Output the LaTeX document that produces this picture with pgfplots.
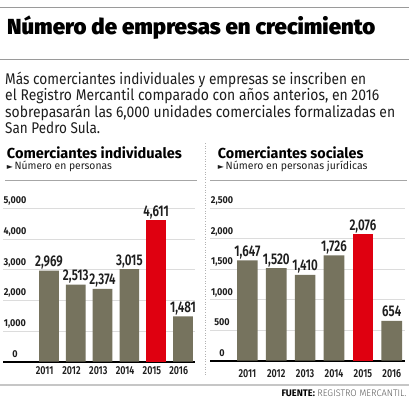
\documentclass[border=0pt]{standalone}
\usepackage{pgfplots}
\pgfplotsset{compat=1.18}
\usepackage{graphicx}
\usepackage{fontspec}
\setmainfont{Fira Sans}
\newfontfamily\symfont{DejaVu Sans}
\IfFontExistsTF{Fira Sans Black}{\newfontfamily\heavyfont{Fira Sans Black}}{%
 \IfFontExistsTF{FiraSans-Black.otf}{\newfontfamily\heavyfont{FiraSans-Black.otf}}{%
  \IfFontExistsTF{Fira Sans Heavy}{\newfontfamily\heavyfont{Fira Sans Heavy}}{%
   \IfFontExistsTF{FiraSans-Heavy.otf}{\newfontfamily\heavyfont{FiraSans-Heavy.otf}}{%
    \IfFontExistsTF{Fira Sans ExtraBold}{\newfontfamily\heavyfont{Fira Sans ExtraBold}}{%
     \newcommand\heavyfont{\bfseries}}}}}}
\IfFontExistsTF{Fira Sans SemiBold}{\newfontfamily\semifont{Fira Sans SemiBold}}{\newcommand\semifont{\bfseries}}
\IfFontExistsTF{Fira Sans Light}{\newfontfamily\lightfont{Fira Sans Light}}{\newcommand\lightfont{}}

\definecolor{bargray}{HTML}{76735E}
\definecolor{barred}{HTML}{DF0010}
\definecolor{ink}{HTML}{1E1E1E}
\definecolor{gridgray}{HTML}{DCDCDC}
\definecolor{rulegray}{HTML}{9A9A9A}

\pgfplotsset{chartbase/.style={
  scale only axis, anchor=south west, clip=false,
  axis x line*=bottom, axis y line*=left,
  every outer x axis line/.append style={-},
  x axis line style={-, line width=2pt, black},
  y axis line style={draw=none},
  major tick length=0pt, tick style={draw=none},
  ymajorgrids, grid style={gridgray, line width=0.7pt},
  ymin=0, scaled y ticks=false,
  xtick={0,1,2,3,4,5}, xticklabels={2011,2012,2013,2014,2015,2016},
  /pgf/number format/.cd, fixed, 1000 sep={,}, assume math mode=true, /pgfplots/.cd,
  yticklabel style={font=\fontsize{10}{10}\selectfont\bfseries, text=ink,
    anchor=base, inner sep=0pt, xshift=12pt, yshift=4.5pt, xscale=0.9},
  xticklabel style={font=\fontsize{11.5}{11.5}\selectfont\semifont, text=ink,
    anchor=base, inner sep=0pt, xscale=0.78},
  nodes near coords,
  nodes near coords style={font=\fontsize{15.5}{15.5}\selectfont\semifont, text=ink,
    anchor=base, inner sep=0pt, yshift=4pt, xscale=0.75},
}}

\begin{document}
\begin{tikzpicture}[x=1pt,y=1pt]
\fill[white] (0,0) rectangle (409,400);
\useasboundingbox (0,0) rectangle (409,400);

% rules
\draw[rulegray, line width=1pt] (0,392) -- (409,392);
\draw[rulegray, line width=1pt] (0,341) -- (409,341);
\draw[gray!70, line width=0.8pt] (5,220) -- (197,220);
\draw[gray!70, line width=0.8pt] (210,220) -- (407,220);
\draw[gray!45, line width=1.5pt] (0,15) -- (409,15);
\draw[gray!60, dotted, line width=0.6pt] (205,257) -- (205,25);

% title and text
\node[anchor=base west, inner sep=0pt, text=black] at (7,365)
  {\resizebox{368pt}{\height}{\fontsize{21.8}{22}\heavyfont Número de empresas en crecimiento}};
\node[anchor=base west, inner sep=0pt, text=ink] at (5,316)
  {\resizebox{361pt}{\height}{\fontsize{15.5}{16}\selectfont Más comerciantes individuales y empresas se inscriben en}};
\node[anchor=base west, inner sep=0pt, text=ink] at (5,299.5)
  {\resizebox{374pt}{\height}{\fontsize{15.5}{16}\selectfont el Registro Mercantil comparado con años anterios, en 2016}};
\node[anchor=base west, inner sep=0pt, text=ink] at (5,283)
  {\resizebox{390pt}{\height}{\fontsize{15.5}{16}\selectfont sobrepasarán las 6,000 unidades comerciales formalizadas en}};
\node[anchor=base west, inner sep=0pt, text=ink] at (5,266.7)
  {\resizebox{95pt}{\height}{\fontsize{15.5}{16}\selectfont San Pedro Sula.}};

% panel headers
\node[anchor=base west, inner sep=0pt, text=black] at (6.7,241.7)
  {\resizebox{175pt}{\height}{\fontsize{14.5}{15}\selectfont\bfseries Comerciantes individuales}};
\node[anchor=base west, inner sep=0pt, text=black] at (217.7,242)
  {\resizebox{145.6pt}{\height}{\fontsize{14.5}{15}\selectfont\bfseries Comerciantes sociales}};
\node[anchor=base west, inner sep=0pt, text=ink] at (6.7,230.7)
  {\resizebox{105pt}{\height}{\fontsize{10.6}{11}\selectfont{\fontsize{8}{8}\symfont ►}\,Número en personas}};
\node[anchor=base west, inner sep=0pt, text=ink] at (217.7,231)
  {\resizebox{149.6pt}{\height}{\fontsize{10.6}{11}\selectfont{\fontsize{8}{8}\symfont ►}\,Número en personas jurídicas}};

% source
\node[anchor=base east, inner sep=0pt] at (406.7,3.3)
  {\resizebox{125pt}{\height}{\fontsize{9.5}{10}\selectfont{\bfseries FUENTE:} {\color{black!65}\lightfont REGISTRO MERCANTIL.}}};

% left chart
\begin{axis}[chartbase, at={(3pt,38.3pt)}, width=192pt, height=153.4pt,
  xmin=-1.716, xmax=5.448, ymax=5000, ytick={0,1000,2000,3000,4000,5000},
  xticklabel style={xshift=-5.5pt, yshift=-12.8pt}]
\addplot[ybar, bar width=19.7pt, bar shift=0pt, fill=bargray, draw=none]
  coordinates {(0,2969) (1,2513) (2,2374) (3,3015) (5,1481)};
\addplot[ybar, bar width=19.7pt, bar shift=0pt, fill=barred, draw=none]
  coordinates {(4,4611)};
\end{axis}

% right chart
\begin{axis}[chartbase, at={(210pt,39.3pt)}, width=195pt, height=152.4pt,
  xmin=-1.295, xmax=5.459, ymax=2500, ytick={0,500,1000,1500,2000,2500},
  xticklabel style={yshift=-16.3pt}]
\addplot[ybar, bar width=20.7pt, bar shift=0pt, fill=bargray, draw=none]
  coordinates {(0,1647) (1,1520) (2,1410) (3,1726) (5,654)};
\addplot[ybar, bar width=20.7pt, bar shift=0pt, fill=barred, draw=none]
  coordinates {(4,2076)};
\end{axis}
\end{tikzpicture}
\end{document}
